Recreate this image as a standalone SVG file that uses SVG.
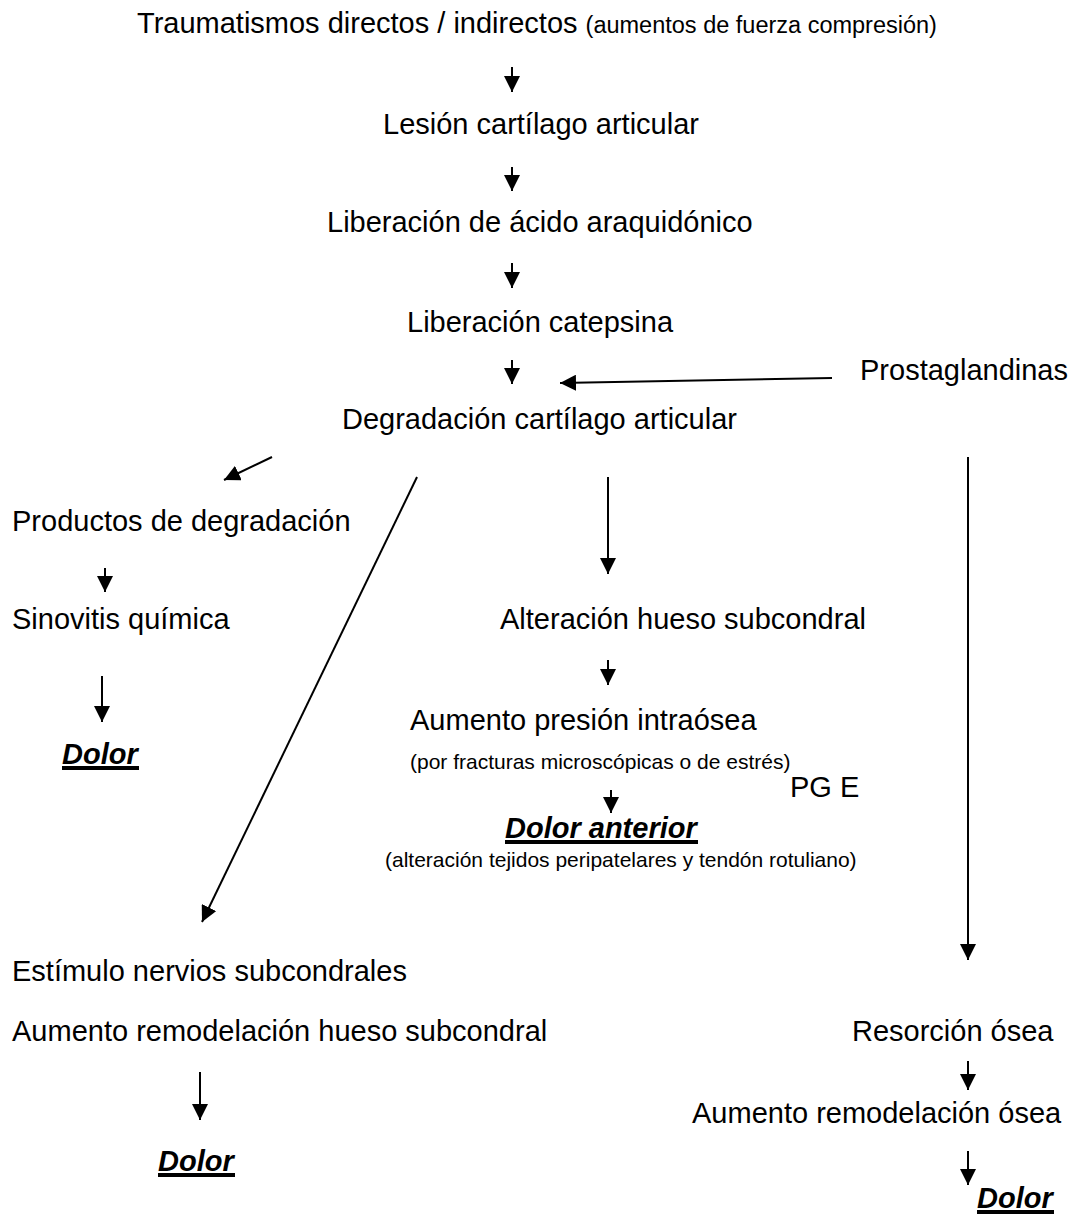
<svg xmlns="http://www.w3.org/2000/svg" width="1078" height="1230" viewBox="0 0 1078 1230">
  <style>
    text { font-family: "Liberation Sans", Arial, sans-serif; font-size: 29px; fill: #000; }
    .small { font-size: 21px; }
    .note { font-size: 23.5px; }
    .pain { font-weight: bold; font-style: italic; }
    .uline { fill: #000; }
    .conn line { stroke: #000; stroke-width: 2; fill: none; marker-end: url(#head); }
  </style>
  <defs>
    <marker id="head" viewBox="0 0 16 16" refX="16" refY="8" markerWidth="16" markerHeight="16" markerUnits="userSpaceOnUse" orient="auto">
      <path d="M0,0 L16,8 L0,16 z" fill="#000"/>
    </marker>
  </defs>
  <rect width="1078" height="1230" fill="#fff"/>

  <!-- main cascade -->
  <g id="trauma"><text x="137" y="33">Traumatismos directos / indirectos <tspan class="note">(aumentos de fuerza compresión)</tspan></text></g>
  <g id="lesion"><text x="383" y="134">Lesión cartílago articular</text></g>
  <g id="araquidonico"><text x="327" y="232">Liberación de ácido araquidónico</text></g>
  <g id="catepsina"><text x="407" y="332">Liberación catepsina</text></g>
  <g id="prostaglandinas"><text x="860" y="380">Prostaglandinas</text></g>
  <g id="degradacion"><text x="342" y="429">Degradación cartílago articular</text></g>

  <!-- left branch -->
  <g id="productos"><text x="12" y="531">Productos de degradación</text></g>
  <g id="sinovitis"><text x="12" y="629">Sinovitis química</text></g>
  <g id="dolor1">
    <text class="pain" x="62" y="764">Dolor</text>
    <rect class="uline" x="62" y="766" width="77" height="4"/>
  </g>

  <!-- centre branch -->
  <g id="hueso"><text x="500" y="629">Alteración hueso subcondral</text></g>
  <g id="presion">
    <text x="410" y="730">Aumento presión intraósea</text>
    <text class="small" x="410" y="769">(por fracturas microscópicas o de estrés)</text>
  </g>
  <g id="dolor-anterior">
    <text class="pain" x="505" y="838">Dolor anterior</text>
    <rect class="uline" x="505" y="840" width="193" height="4"/>
    <text class="small" x="385" y="867">(alteración tejidos peripatelares y tendón rotuliano)</text>
  </g>

  <!-- nerve branch -->
  <g id="nervios">
    <text x="12" y="981">Estímulo nervios subcondrales</text>
    <text x="12" y="1041">Aumento remodelación hueso subcondral</text>
  </g>
  <g id="dolor2">
    <text class="pain" x="158" y="1171">Dolor</text>
    <rect class="uline" x="158" y="1173" width="77" height="4"/>
  </g>

  <!-- PG E branch -->
  <g id="pge"><text x="790" y="797">PG E</text></g>
  <g id="resorcion"><text x="852" y="1041">Resorción ósea</text></g>
  <g id="remodelacion"><text x="692" y="1123">Aumento remodelación ósea</text></g>
  <g id="dolor3">
    <text class="pain" x="977" y="1208">Dolor</text>
    <rect class="uline" x="977" y="1210" width="77" height="4"/>
  </g>

  <g id="connectors" class="conn">
    <line x1="512" y1="67" x2="512" y2="92"/>
    <line x1="512" y1="167" x2="512" y2="191"/>
    <line x1="512" y1="263" x2="512" y2="288"/>
    <line x1="512" y1="360" x2="512" y2="384"/>
    <line x1="832" y1="378" x2="560" y2="383"/>
    <line x1="272" y1="457" x2="224" y2="480"/>
    <line x1="417" y1="477" x2="202" y2="922"/>
    <line x1="608" y1="477" x2="608" y2="574"/>
    <line x1="968" y1="457" x2="968" y2="960"/>
    <line x1="105" y1="568" x2="105" y2="592"/>
    <line x1="102" y1="676" x2="102" y2="722"/>
    <line x1="608" y1="660" x2="608" y2="685"/>
    <line x1="611" y1="790" x2="611" y2="813"/>
    <line x1="200" y1="1072" x2="200" y2="1120"/>
    <line x1="968" y1="1061" x2="968" y2="1090"/>
    <line x1="968" y1="1151" x2="968" y2="1185"/>
  </g>
</svg>
